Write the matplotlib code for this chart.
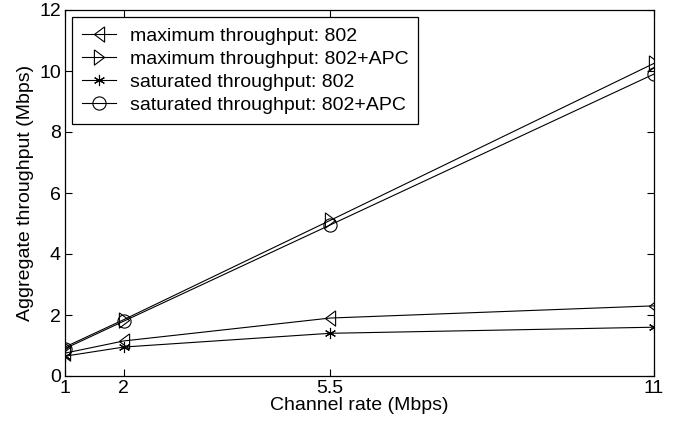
import matplotlib
matplotlib.use("Agg")
import matplotlib.pyplot as plt

plt.rcParams['font.family'] = ['Liberation Sans', 'DejaVu Sans']

rates = [1, 2, 5.5, 11]
max_802 = [0.75, 1.15, 1.9, 2.3]
max_apc = [0.95, 1.85, 5.1, 10.25]
sat_802 = [0.65, 0.95, 1.4, 1.6]
sat_apc = [0.9, 1.8, 4.95, 9.9]
labels = ['maximum throughput: 802', 'maximum throughput: 802+APC',
          'saturated throughput: 802', 'saturated throughput: 802+APC']

tri_left = [(0.67, 1), (-0.67, 0), (0.67, -1), (0.67, 1)]
tri_right = [(-0.67, 1), (0.67, 0), (-0.67, -1), (-0.67, 1)]

fig = plt.figure(figsize=(6.93, 4.26), dpi=100)
ax = fig.add_axes([65 / 693, 50 / 426, 589 / 693, 366 / 426])
kw = dict(color='black', lw=0.8, markerfacecolor='none', markeredgecolor='black', markeredgewidth=0.8)
ax.plot(rates, max_802, marker=tri_left, ms=11, label=labels[0], **kw)
ax.plot(rates, max_apc, marker=tri_right, ms=11, label=labels[1], **kw)
ax.plot(rates, sat_802, marker=(6, 2, 0), ms=8, label=labels[2], **kw)
ax.plot(rates, sat_apc, marker='o', ms=9.5, label=labels[3], **kw)

ax.set_xlim(1, 11)
ax.set_ylim(0, 12)
ax.set_xticks(rates)
ax.set_xticklabels(['1', '2', '5.5', '11'])
ax.set_yticks(range(0, 13, 2))
ax.tick_params(direction='in', top=True, right=True, labelsize=14, length=5, width=0.8, pad=3)
for s in ax.spines.values():
    s.set_linewidth(0.9)
ax.set_xlabel('Channel rate (Mbps)', fontsize=14, labelpad=0)
ax.set_ylabel('Aggregate throughput (Mbps)', fontsize=14, labelpad=4)
leg = ax.legend(loc='upper left', fontsize=14, fancybox=False, edgecolor='black',
                framealpha=1, borderaxespad=0.38, handlelength=1.75, handletextpad=0.7,
                labelspacing=0.28, borderpad=0.5)
leg.get_frame().set_linewidth(0.9)
fig.savefig('out.png', dpi=100)
